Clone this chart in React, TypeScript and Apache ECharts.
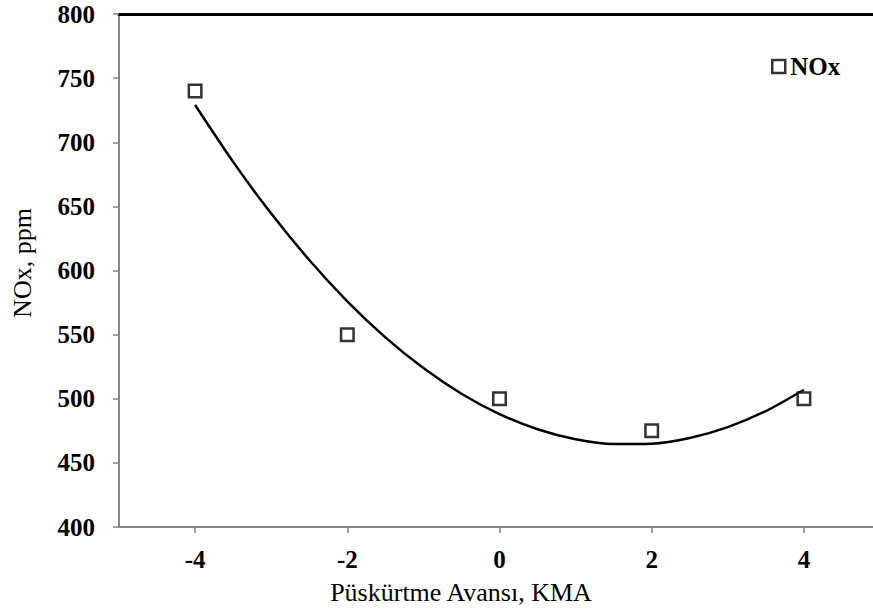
import React, { useEffect, useRef } from "react";
import * as echarts from "echarts";

const xValues = [-4, -2, 0, 2, 4];
const noxValues = [740, 550, 500, 475, 500];
const trendX = [-4, -3.5, -3, -2.5, -2, -1.5, -1, -0.5, 0, 0.5, 1, 1.5, 2, 2.5, 3, 3.5, 4];
const trendY = [729, 684.7, 644.4, 608.2, 576, 547.9, 523.9, 503.9, 488, 476.2, 468.4, 464.7, 465, 469.4, 477.9, 490.4, 507];
const xTicks = [-4, -2, 0, 2, 4];
const yTicks = [400, 450, 500, 550, 600, 650, 700, 750, 800];

const FONT = '"Liberation Serif", "Times New Roman", serif';
const X_MIN = -5;
const X_MAX = 4.908;

export default function App() {
  const ref = useRef<HTMLDivElement>(null);
  useEffect(() => {
    if (!ref.current) return;
    const chart = echarts.init(ref.current, null, { renderer: "svg" });
    chart.setOption({
      animation: false,
      backgroundColor: "#ffffff",
      textStyle: { fontFamily: FONT },
      grid: { left: 119, top: 14, bottom: 83, right: 0, containLabel: false },
      legend: {
        show: true,
        left: 771,
        top: 54,
        padding: 0,
        itemWidth: 13,
        itemHeight: 13,
        data: [{ name: "NOx", icon: "rect" }],
        itemStyle: { color: "#fff", borderColor: "#000", borderWidth: 2.5 },
        textStyle: { fontFamily: FONT, fontWeight: "bold", fontSize: 25, color: "#000" },
      },
      xAxis: [
        {
          type: "value",
          min: X_MIN,
          max: X_MAX,
          axisLine: { show: true, onZero: false, lineStyle: { color: "#878787", width: 2 } },
          axisTick: { show: true, customValues: xTicks, length: 6, inside: false, lineStyle: { color: "#878787", width: 1.5 } },
          axisLabel: {
            customValues: xTicks,
            margin: 20,
            fontFamily: FONT,
            fontWeight: "bold",
            fontSize: 25,
            color: "#000",
          },
          splitLine: { show: false },
        },
        {
          type: "value",
          position: "top",
          min: X_MIN,
          max: X_MAX,
          axisLine: { show: true, onZero: false, lineStyle: { color: "#000", width: 3 } },
          axisTick: { show: false },
          axisLabel: { show: false },
          splitLine: { show: false },
        },
      ],
      yAxis: {
        type: "value",
        min: 400,
        max: 800,
        interval: 50,
        axisLine: { show: true, onZero: false, lineStyle: { color: "#878787", width: 2 } },
        axisTick: { show: true, customValues: yTicks, length: 6, inside: false, lineStyle: { color: "#878787", width: 1.5 } },
        axisLabel: {
          customValues: yTicks,
          margin: 24,
          fontFamily: FONT,
          fontWeight: "bold",
          fontSize: 25,
          color: "#000",
        },
        splitLine: { show: false },
      },
      graphic: [
        {
          type: "text",
          x: 22,
          y: 263,
          rotation: Math.PI / 2,
          style: {
            text: "NOx, ppm",
            fontFamily: FONT,
            fontSize: 26,
            fill: "#000",
            align: "center",
            verticalAlign: "middle",
          },
        },
        {
          type: "text",
          x: 461,
          y: 592,
          style: {
            text: "Püskürtme Avansı, KMA",
            fontFamily: FONT,
            fontSize: 26,
            fill: "#000",
            align: "center",
            verticalAlign: "middle",
          },
        },
      ],
      series: [
        {
          name: "Trend",
          type: "line",
          smooth: 0.3,
          showSymbol: false,
          symbol: "none",
          data: trendX.map((x, i) => [x, trendY[i]]),
          lineStyle: { color: "#000", width: 2.5 },
          z: 2,
        },
        {
          name: "NOx",
          type: "scatter",
          symbol: "rect",
          symbolSize: 12.5,
          data: xValues.map((x, i) => [x, noxValues[i]]),
          itemStyle: { color: "#fff", borderColor: "#000", borderWidth: 2.5 },
          z: 3,
        },
      ],
    });
    return () => chart.dispose();
  }, []);
  return <div ref={ref} style={{ width: 873, height: 610, position: "fixed", left: 0, top: 0 }} />;
}
